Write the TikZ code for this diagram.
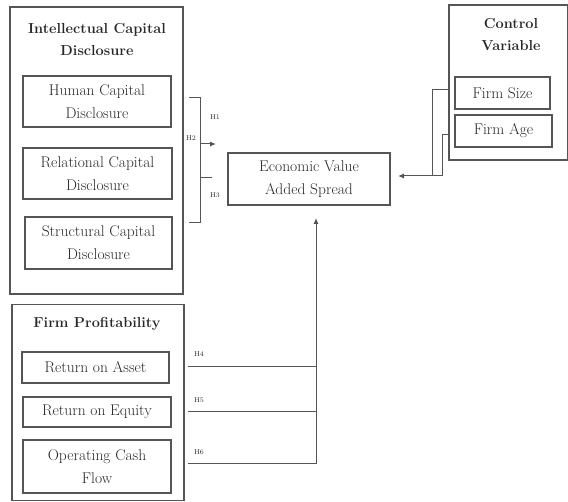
\documentclass[tikz,border=0pt]{standalone}
\usetikzlibrary{arrows.meta}
\definecolor{ln}{RGB}{85,85,85}
\definecolor{tx}{RGB}{40,40,40}
\begin{document}
\begin{tikzpicture}[x=1pt,y=-1pt,
  frame/.style={draw=ln,line width=1.1pt,inner sep=0pt},
  item/.style={draw=ln,line width=1.1pt,inner sep=0pt,align=center,text=tx,
    font=\fontsize{15.5}{23}\selectfont},
  ttl/.style={align=center,text=tx,font=\bfseries\fontsize{14.5}{22}\selectfont},
  hlab/.style={text=tx,font=\fontsize{7}{8}\selectfont,inner sep=0pt},
  conn/.style={draw=ln,line width=1pt},
  arr/.style={conn,-{Latex[length=6pt,width=5pt]}}]
\useasboundingbox (0,0) rectangle (568,502);
% Intellectual Capital Disclosure
\node[frame,minimum width=173pt,minimum height=287pt] (icd) at (96.5,150.5) {};
\node[ttl] (icdt) at (97,39) {Intellectual Capital\\Disclosure};
\node[item,minimum width=148pt,minimum height=51pt] (hcd) at (97,101.5) {Human Capital\\Disclosure};
\node[item,minimum width=149pt,minimum height=51pt] (rcd) at (97.5,173.5) {Relational Capital\\Disclosure};
\node[item,minimum width=147pt,minimum height=52pt] (scd) at (98.5,243) {Structural Capital\\Disclosure};
% EVA
\node[item,minimum width=162pt,minimum height=52pt] (eva) at (309,179) {Economic Value\\Added Spread};
% Control variable
\node[frame,minimum width=119pt,minimum height=155pt] (cv) at (508.5,82.5) {};
\node[ttl] (cvt) at (511,35) {Control\\Variable};
\node[item,minimum width=95pt,minimum height=32pt] (fs) at (502.5,93) {Firm Size};
\node[item,minimum width=97pt,minimum height=32pt] (fa) at (503.5,131) {Firm Age};
% Firm profitability
\node[frame,minimum width=172pt,minimum height=196pt] (fp) at (98,402.5) {};
\node[ttl] (fpt) at (97,324) {Firm Profitability};
\node[item,minimum width=147pt,minimum height=31pt] (roa) at (95.5,367.5) {Return on Asset};
\node[item,minimum width=148pt,minimum height=30pt] (roe) at (97,412) {Return on Equity};
\node[item,minimum width=148pt,minimum height=53pt] (ocf) at (97,466.5) {Operating Cash\\Flow};
% bracket H1-H3
\coordinate (bt) at (200,98);
\coordinate (bb) at (200,223);
\coordinate (bm) at (200,144);
\coordinate (bx) at (212,178);
\coordinate (ba) at (216,144);
\draw[conn] (189,98) -- (bt) -- (bb) -- (189,223);
\draw[conn] (200,178) -- (bx);
\draw[arr] (bm) -- (ba);
\node[hlab] (h1) at (215,117) {H1};
\node[hlab] (h2) at (191,138) {H2};
\node[hlab] (h3) at (215,195) {H3};
% control connectors
\coordinate (c1) at (432,90);
\coordinate (c2) at (442,135);
\coordinate (cj) at (432,176);
\coordinate (cj2) at (442,176);
\coordinate (ct) at (398,176);
\draw[conn] (449,90) -- (c1) -- (cj);
\draw[conn] (449,135) -- (c2) -- (cj2);
\draw[arr] (cj2) -- (ct);
% profitability connectors
\coordinate (p4) at (316,367);
\coordinate (p5) at (316,412);
\coordinate (p6) at (316,464);
\coordinate (pt) at (316,218);
\draw[conn] (188,367) -- (p4);
\draw[conn] (188,412) -- (p5);
\draw[conn] (188,464) -- (p6);
\draw[arr] (p6) -- (pt);
\node[hlab] (h4) at (199,354) {H4};
\node[hlab] (h5) at (199,400) {H5};
\node[hlab] (h6) at (199,452) {H6};
\end{tikzpicture}
\end{document}
